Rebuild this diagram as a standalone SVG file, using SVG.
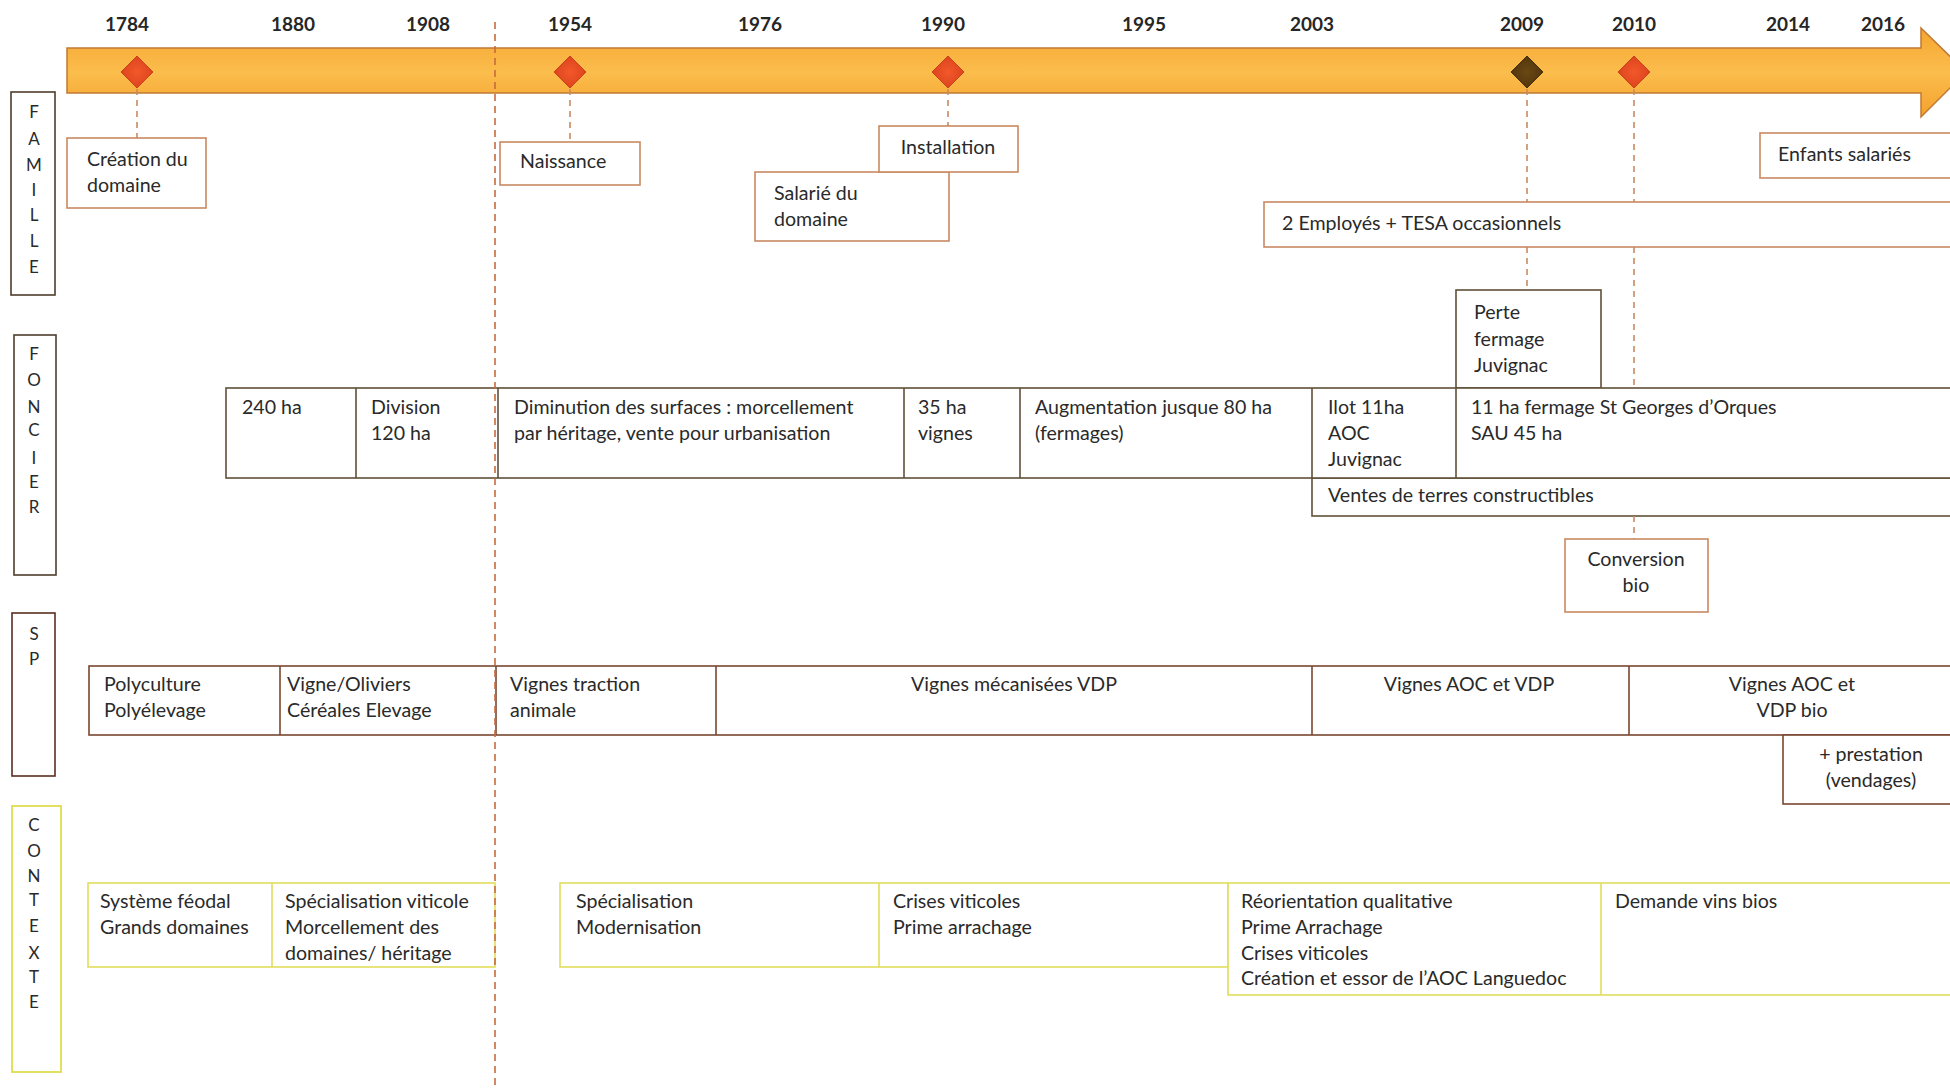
<svg xmlns="http://www.w3.org/2000/svg" width="1950" height="1089" viewBox="0 0 1950 1089">
<defs>
<linearGradient id="band" x1="0" y1="0" x2="0" y2="1">
<stop offset="0" stop-color="#F5A530"/>
<stop offset="0.5" stop-color="#FBBD4C"/>
<stop offset="1" stop-color="#F4A02C"/>
</linearGradient>
<radialGradient id="red" cx="0.5" cy="0.5" r="0.6">
<stop offset="0" stop-color="#F2582A"/>
<stop offset="1" stop-color="#D9411C"/>
</radialGradient>
<radialGradient id="dark" cx="0.5" cy="0.5" r="0.6">
<stop offset="0" stop-color="#6A4814"/>
<stop offset="1" stop-color="#4E320C"/>
</radialGradient>
</defs>
<style>
.yr{font-family:Lato,"Liberation Sans",sans-serif;font-weight:bold;font-size:19px;fill:#262626;text-anchor:middle}
.t{font-family:Lato,"Liberation Sans",sans-serif;font-size:19.6px;fill:#2a2a2a}
.c{text-anchor:middle}
.lt{font-family:Lato,"Liberation Sans",sans-serif;font-size:17px;fill:#2a2a2a;text-anchor:middle}
.fam{fill:#fff;stroke:#C98A62;stroke-width:1.6}
.fon{fill:#fff;stroke:#5F5038;stroke-width:1.6}
.fonl{stroke:#5F5038;stroke-width:1.6}
.sp{fill:#fff;stroke:#7A4630;stroke-width:1.6}
.spl{stroke:#7A4630;stroke-width:1.6}
.ctx{fill:#fff;stroke:#E2DE5C;stroke-width:1.6}
.ctxl{stroke:#E2DE5C;stroke-width:1.6}
.lab{fill:#fff;stroke:#4E3E2C;stroke-width:1.6}
.labsp{fill:#fff;stroke:#5A2E20;stroke-width:1.6}
.labctx{fill:#fff;stroke:#E0DC50;stroke-width:1.8}
.dash{stroke:#C98A62;stroke-width:1.6;stroke-dasharray:6 5;fill:none}
.main{stroke:#C86A40;stroke-width:1.6;stroke-dasharray:7 5;fill:none}
</style>
<rect width="1950" height="1089" fill="#fff"/>

<g id="timeline">
<path d="M67,48 L1921,48 L1921,28 L1966,72 L1921,117 L1921,93 L67,93 Z" fill="url(#band)" stroke="#C07A35" stroke-width="1.5"/>
<text class="yr" x="127" y="31">1784</text>
<text class="yr" x="293" y="31">1880</text>
<text class="yr" x="428" y="31">1908</text>
<text class="yr" x="570" y="31">1954</text>
<text class="yr" x="760" y="31">1976</text>
<text class="yr" x="943" y="31">1990</text>
<text class="yr" x="1144" y="31">1995</text>
<text class="yr" x="1312" y="31">2003</text>
<text class="yr" x="1522" y="31">2009</text>
<text class="yr" x="1634" y="31">2010</text>
<text class="yr" x="1788" y="31">2014</text>
<text class="yr" x="1883" y="31">2016</text>
</g>

<g id="milestones">
<path id="m1784" d="M137,56 L153,72 L137,88 L121,72 Z" fill="url(#red)" stroke="#C8401C" stroke-width="1"/>
<path id="m1954" d="M570,56 L586,72 L570,88 L554,72 Z" fill="url(#red)" stroke="#C8401C" stroke-width="1"/>
<path id="m1990" d="M948,56 L964,72 L948,88 L932,72 Z" fill="url(#red)" stroke="#C8401C" stroke-width="1"/>
<path id="m2009" d="M1527,56 L1543,72 L1527,88 L1511,72 Z" fill="url(#dark)" stroke="#46300C" stroke-width="1"/>
<path id="m2010" d="M1634,56 L1650,72 L1634,88 L1618,72 Z" fill="url(#red)" stroke="#C8401C" stroke-width="1"/>
</g>

<g id="row-labels">
<g id="label-famille">
<rect class="lab" x="11" y="92" width="44" height="203"/>
<text class="lt" x="34" y="118">F</text>
<text class="lt" x="34" y="145">A</text>
<text class="lt" x="34" y="171">M</text>
<text class="lt" x="34" y="196">I</text>
<text class="lt" x="34" y="221">L</text>
<text class="lt" x="34" y="247">L</text>
<text class="lt" x="34" y="273">E</text>
</g>
<g id="label-foncier">
<rect class="lab" x="14" y="335" width="42" height="240"/>
<text class="lt" x="34" y="360">F</text>
<text class="lt" x="34" y="386">O</text>
<text class="lt" x="34" y="413">N</text>
<text class="lt" x="34" y="436">C</text>
<text class="lt" x="34" y="464">I</text>
<text class="lt" x="34" y="488">E</text>
<text class="lt" x="34" y="513">R</text>
</g>
<g id="label-sp">
<rect class="labsp" x="12" y="613" width="43" height="163"/>
<text class="lt" x="34" y="640">S</text>
<text class="lt" x="34" y="665">P</text>
</g>
<g id="label-contexte">
<rect class="labctx" x="12" y="806" width="49" height="266"/>
<text class="lt" x="34" y="831">C</text>
<text class="lt" x="34" y="857">O</text>
<text class="lt" x="34" y="882">N</text>
<text class="lt" x="34" y="906">T</text>
<text class="lt" x="34" y="932">E</text>
<text class="lt" x="34" y="959">X</text>
<text class="lt" x="34" y="983">T</text>
<text class="lt" x="34" y="1008">E</text>
</g>
</g>

<g id="famille">
<g id="creation">
<rect class="fam" x="67" y="138" width="139" height="70"/>
<text class="t" x="87" y="166">Création du</text>
<text class="t" x="87" y="192">domaine</text>
</g>
<g id="naissance">
<rect class="fam" x="500" y="142" width="140" height="43"/>
<text class="t" x="520" y="168">Naissance</text>
</g>
<g id="salarie">
<rect class="fam" x="755" y="172" width="194" height="69"/>
<text class="t" x="774" y="200">Salarié du</text>
<text class="t" x="774" y="226">domaine</text>
</g>
<g id="installation">
<rect class="fam" x="879" y="126" width="139" height="46"/>
<text class="t c" x="948" y="154">Installation</text>
</g>
<g id="employes">
<rect class="fam" x="1264" y="202" width="700" height="45"/>
<text class="t" x="1282" y="230">2 Employés + TESA occasionnels</text>
</g>
<g id="enfants">
<rect class="fam" x="1760" y="133" width="200" height="45"/>
<text class="t" x="1778" y="161">Enfants salariés</text>
</g>
<g id="perte">
<rect class="fon" x="1456" y="290" width="145" height="98"/>
<text class="t" x="1474" y="319">Perte</text>
<text class="t" x="1474" y="346">fermage</text>
<text class="t" x="1474" y="372">Juvignac</text>
</g>
</g>

<g id="foncier">
<g id="ventes">
<rect class="fon" x="1312" y="478" width="650" height="38"/>
<text class="t" x="1328" y="502">Ventes de terres constructibles</text>
</g>
<g id="foncier-row">
<rect class="fon" x="226" y="388" width="1736" height="90"/>
<line class="fonl" x1="356" y1="388" x2="356" y2="478"/>
<line class="fonl" x1="498" y1="388" x2="498" y2="478"/>
<line class="fonl" x1="904" y1="388" x2="904" y2="478"/>
<line class="fonl" x1="1020" y1="388" x2="1020" y2="478"/>
<line class="fonl" x1="1312" y1="388" x2="1312" y2="478"/>
<line class="fonl" x1="1456" y1="388" x2="1456" y2="478"/>
</g>
<g id="f240"><text class="t" x="242" y="414">240 ha</text></g>
<g id="fdivision"><text class="t" x="371" y="414">Division</text><text class="t" x="371" y="440">120 ha</text></g>
<g id="fdiminution"><text class="t" x="514" y="414">Diminution des surfaces : morcellement</text><text class="t" x="514" y="440">par héritage, vente pour urbanisation</text></g>
<g id="f35"><text class="t" x="918" y="414">35 ha</text><text class="t" x="918" y="440">vignes</text></g>
<g id="faugmentation"><text class="t" x="1035" y="414">Augmentation jusque 80 ha</text><text class="t" x="1035" y="440">(fermages)</text></g>
<g id="filot"><text class="t" x="1328" y="414">Ilot 11ha</text><text class="t" x="1328" y="440">AOC</text><text class="t" x="1328" y="466">Juvignac</text></g>
<g id="f11ha"><text class="t" x="1471" y="414">11 ha  fermage St Georges d’Orques</text><text class="t" x="1471" y="440">SAU 45 ha</text></g>
<g id="conversion">
<rect class="fam" x="1565" y="539" width="143" height="73"/>
<text class="t c" x="1636" y="566">Conversion</text>
<text class="t c" x="1636" y="592">bio</text>
</g>
</g>

<g id="sp">
<g id="sp-row">
<rect class="sp" x="89" y="666" width="1873" height="69"/>
<line class="spl" x1="280" y1="666" x2="280" y2="735"/>
<line class="spl" x1="496" y1="666" x2="496" y2="735"/>
<line class="spl" x1="716" y1="666" x2="716" y2="735"/>
<line class="spl" x1="1312" y1="666" x2="1312" y2="735"/>
<line class="spl" x1="1629" y1="666" x2="1629" y2="735"/>
</g>
<g id="sp-poly"><text class="t" x="104" y="691">Polyculture</text><text class="t" x="104" y="717">Polyélevage</text></g>
<g id="sp-vigne"><text class="t" x="287" y="691">Vigne/Oliviers</text><text class="t" x="287" y="717">Céréales Elevage</text></g>
<g id="sp-traction"><text class="t" x="510" y="691">Vignes traction</text><text class="t" x="510" y="717">animale</text></g>
<g id="sp-meca"><text class="t c" x="1014" y="691">Vignes mécanisées VDP</text></g>
<g id="sp-aoc"><text class="t c" x="1469" y="691">Vignes AOC et VDP</text></g>
<g id="sp-bio"><text class="t c" x="1792" y="691">Vignes AOC et</text><text class="t c" x="1792" y="717">VDP bio</text></g>
<g id="prestation">
<rect class="sp" x="1783" y="735" width="180" height="69"/>
<text class="t c" x="1871" y="761">+ prestation</text>
<text class="t c" x="1871" y="787">(vendages)</text>
</g>
</g>

<g id="contexte">
<g id="ctx1">
<rect class="ctx" x="88" y="883" width="407" height="84"/>
<line class="ctxl" x1="272" y1="883" x2="272" y2="967"/>
<text class="t" x="100" y="908">Système féodal</text>
<text class="t" x="100" y="934">Grands domaines</text>
<text class="t" x="285" y="908">Spécialisation viticole</text>
<text class="t" x="285" y="934">Morcellement des</text>
<text class="t" x="285" y="960">domaines/ héritage</text>
</g>
<g id="ctx2">
<rect class="ctx" x="560" y="883" width="668" height="84"/>
<line class="ctxl" x1="879" y1="883" x2="879" y2="967"/>
<text class="t" x="576" y="908">Spécialisation</text>
<text class="t" x="576" y="934">Modernisation</text>
<text class="t" x="893" y="908">Crises viticoles</text>
<text class="t" x="893" y="934">Prime arrachage</text>
</g>
<g id="ctx3">
<rect class="ctx" x="1228" y="883" width="734" height="112"/>
<line class="ctxl" x1="1601" y1="883" x2="1601" y2="995"/>
<text class="t" x="1241" y="908">Réorientation qualitative</text>
<text class="t" x="1241" y="934">Prime Arrachage</text>
<text class="t" x="1241" y="960">Crises viticoles</text>
<text class="t" x="1241" y="985">Création et essor de l’AOC Languedoc</text>
<text class="t" x="1615" y="908">Demande vins bios</text>
</g>
</g>

<g id="connectors">
<line class="dash" x1="137" y1="89" x2="137" y2="138"/>
<line class="dash" x1="570" y1="89" x2="570" y2="142"/>
<line class="dash" x1="948" y1="89" x2="948" y2="126"/>
<line class="dash" x1="1527" y1="89" x2="1527" y2="202"/>
<line class="dash" x1="1527" y1="247" x2="1527" y2="290"/>
<line class="dash" x1="1634" y1="89" x2="1634" y2="202"/>
<line class="dash" x1="1634" y1="247" x2="1634" y2="388"/>
<line class="dash" x1="1634" y1="516" x2="1634" y2="539"/>
<line class="main" x1="495" y1="22" x2="495" y2="1089"/>
</g>
</svg>
